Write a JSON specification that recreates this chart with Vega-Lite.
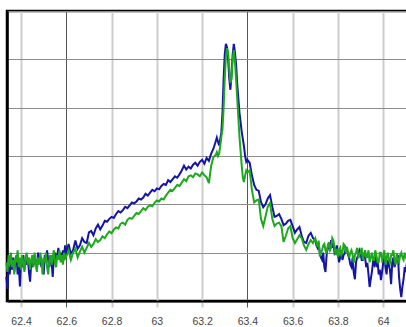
{
"$schema":"https://vega.github.io/schema/vega-lite/v6.json",
"width":402,"height":290,
"autosize":"none",
"padding":{"left":7,"top":11,"right":0,"bottom":26},
"background":"white",
"config":{"view":{"stroke":"#000","strokeWidth":2.5}},
"data":{"values":[
{"x":62.335,"b":0.50,"g":0.80},{"x":62.340,"b":0.25,"g":0.60},{"x":62.345,"b":0.70,"g":0.95},{"x":62.350,"b":0.55,"g":0.75},{"x":62.355,"b":0.85,"g":1.00},{"x":62.360,"b":0.65,"g":0.70},{"x":62.365,"b":0.90,"g":0.85},{"x":62.370,"b":0.60,"g":0.55},{"x":62.375,"b":0.80,"g":0.90},{"x":62.380,"b":0.95,"g":0.80},{"x":62.385,"b":0.55,"g":1.05},{"x":62.390,"b":0.75,"g":0.70},{"x":62.395,"b":0.30,"g":0.90},{"x":62.400,"b":0.80,"g":0.65},{"x":62.405,"b":0.70,"g":0.95},{"x":62.410,"b":0.95,"g":0.80},{"x":62.415,"b":0.65,"g":0.60},{"x":62.420,"b":0.85,"g":0.90},{"x":62.425,"b":0.75,"g":1.00},{"x":62.430,"b":0.90,"g":0.75},{"x":62.435,"b":0.60,"g":0.90},{"x":62.440,"b":0.40,"g":0.65},{"x":62.445,"b":0.80,"g":0.85},{"x":62.450,"b":0.70,"g":0.95},{"x":62.455,"b":0.95,"g":0.70},{"x":62.460,"b":0.75,"g":1.00},{"x":62.465,"b":0.85,"g":0.80},{"x":62.470,"b":0.65,"g":0.60},{"x":62.475,"b":1.00,"g":0.90},{"x":62.480,"b":0.80,"g":0.75},{"x":62.485,"b":0.90,"g":1.00},{"x":62.490,"b":0.70,"g":0.85},{"x":62.495,"b":0.85,"g":0.55},{"x":62.500,"b":0.55,"g":0.90},{"x":62.505,"b":0.95,"g":0.80},{"x":62.510,"b":0.80,"g":1.00},{"x":62.515,"b":1.05,"g":0.70},{"x":62.520,"b":0.85,"g":0.55},{"x":62.525,"b":0.70,"g":0.85},{"x":62.530,"b":0.95,"g":0.95},{"x":62.535,"b":0.80,"g":0.75},{"x":62.540,"b":0.50,"g":0.90},{"x":62.545,"b":0.90,"g":1.05},{"x":62.550,"b":1.00,"g":0.80},{"x":62.555,"b":0.85,"g":0.70},{"x":62.560,"b":0.95,"g":0.95},{"x":62.565,"b":1.10,"g":0.85},{"x":62.570,"b":0.90,"g":1.05},{"x":62.575,"b":1.00,"g":0.80},{"x":62.580,"b":0.85,"g":0.95},{"x":62.585,"b":1.05,"g":0.75},{"x":62.590,"b":0.95,"g":1.00},{"x":62.595,"b":1.15,"g":0.88},
{"x":62.60,"b":0.95,"g":0.92},{"x":62.61,"b":1.18,"g":1.05},{"x":62.62,"b":0.98,"g":0.85},{"x":62.63,"b":1.05,"g":1.00},{"x":62.64,"b":1.25,"g":1.08},{"x":62.65,"b":1.08,"g":0.90},{"x":62.66,"b":1.15,"g":1.02},{"x":62.67,"b":1.30,"g":1.12},{"x":62.68,"b":1.22,"g":1.00},{"x":62.69,"b":1.20,"g":1.10},{"x":62.70,"b":1.42,"g":1.20},{"x":62.71,"b":1.45,"g":1.12},{"x":62.72,"b":1.36,"g":1.18},{"x":62.73,"b":1.50,"g":1.28},{"x":62.74,"b":1.58,"g":1.22},{"x":62.75,"b":1.48,"g":1.26},{"x":62.76,"b":1.56,"g":1.34},{"x":62.77,"b":1.66,"g":1.30},{"x":62.78,"b":1.64,"g":1.38},{"x":62.79,"b":1.70,"g":1.44},{"x":62.80,"b":1.74,"g":1.40},{"x":62.81,"b":1.72,"g":1.48},{"x":62.82,"b":1.80,"g":1.52},{"x":62.83,"b":1.86,"g":1.50},{"x":62.84,"b":1.83,"g":1.60},{"x":62.85,"b":1.88,"g":1.62},{"x":62.86,"b":1.95,"g":1.58},{"x":62.87,"b":1.92,"g":1.68},{"x":62.88,"b":1.98,"g":1.72},{"x":62.89,"b":2.04,"g":1.70},{"x":62.90,"b":2.02,"g":1.76},{"x":62.91,"b":2.06,"g":1.82},{"x":62.92,"b":2.12,"g":1.80},{"x":62.93,"b":2.10,"g":1.86},{"x":62.94,"b":2.14,"g":1.92},{"x":62.95,"b":2.22,"g":1.88},{"x":62.96,"b":2.18,"g":1.95},{"x":62.97,"b":2.24,"g":1.98},{"x":62.98,"b":2.30,"g":1.96},{"x":62.99,"b":2.27,"g":2.03},{"x":63.00,"b":2.33,"g":2.08},{"x":63.01,"b":2.31,"g":2.06},{"x":63.02,"b":2.38,"g":2.12},{"x":63.03,"b":2.42,"g":2.10},{"x":63.04,"b":2.40,"g":2.18},{"x":63.05,"b":2.50,"g":2.24},{"x":63.06,"b":2.46,"g":2.30},{"x":63.07,"b":2.52,"g":2.28},{"x":63.08,"b":2.58,"g":2.34},{"x":63.09,"b":2.55,"g":2.40},{"x":63.10,"b":2.62,"g":2.38},{"x":63.11,"b":2.70,"g":2.45},{"x":63.12,"b":2.80,"g":2.52},{"x":63.13,"b":2.72,"g":2.48},{"x":63.14,"b":2.78,"g":2.58},{"x":63.15,"b":2.74,"g":2.60},{"x":63.16,"b":2.82,"g":2.56},{"x":63.17,"b":2.86,"g":2.64},{"x":63.18,"b":2.80,"g":2.62},{"x":63.19,"b":2.88,"g":2.58},{"x":63.20,"b":2.92,"g":2.66},{"x":63.21,"b":2.84,"g":2.60},{"x":63.22,"b":2.96,"g":2.56},{"x":63.23,"b":2.90,"g":2.44},
{"x":63.24,"b":3.05,"g":2.80},{"x":63.25,"b":3.15,"g":2.98},{"x":63.26,"b":3.30,"g":3.02},{"x":63.265,"b":3.38,"g":3.08},{"x":63.27,"b":3.30,"g":3.00},{"x":63.275,"b":3.22,"g":3.05},{"x":63.28,"b":3.35,"g":3.20},{"x":63.285,"b":3.48,"g":3.40},{"x":63.29,"b":3.90,"g":3.55},{"x":63.295,"b":4.60,"g":4.00},{"x":63.30,"b":5.10,"g":4.60},{"x":63.305,"b":5.32,"g":5.05},{"x":63.31,"b":5.25,"g":5.23},{"x":63.315,"b":5.00,"g":5.15},{"x":63.32,"b":4.60,"g":4.80},{"x":63.325,"b":4.37,"g":4.51},{"x":63.33,"b":4.70,"g":4.60},{"x":63.335,"b":5.10,"g":5.00},{"x":63.34,"b":5.32,"g":5.19},{"x":63.345,"b":5.15,"g":4.95},{"x":63.35,"b":4.90,"g":4.60},{"x":63.355,"b":4.50,"g":4.20},{"x":63.36,"b":4.20,"g":3.80},{"x":63.365,"b":3.90,"g":3.40},{"x":63.37,"b":3.70,"g":3.10},{"x":63.375,"b":3.50,"g":2.80},{"x":63.38,"b":3.35,"g":2.55},{"x":63.385,"b":3.20,"g":2.46},{"x":63.39,"b":3.00,"g":2.60},{"x":63.395,"b":2.88,"g":2.70},{"x":63.40,"b":2.92,"g":2.66},{"x":63.41,"b":2.86,"g":2.70},{"x":63.42,"b":2.60,"g":2.30},{"x":63.43,"b":2.40,"g":2.04},{"x":63.44,"b":2.30,"g":2.08},{"x":63.45,"b":2.28,"g":2.10},{"x":63.46,"b":2.05,"g":1.70},{"x":63.47,"b":1.94,"g":1.55},{"x":63.48,"b":2.00,"g":1.75},{"x":63.49,"b":2.12,"g":1.95},{"x":63.50,"b":2.19,"g":2.03},{"x":63.51,"b":1.95,"g":1.70},{"x":63.52,"b":1.74,"g":1.55},{"x":63.53,"b":1.76,"g":1.60},{"x":63.54,"b":1.80,"g":1.62},{"x":63.55,"b":1.70,"g":1.55},{"x":63.56,"b":1.57,"g":1.22},{"x":63.57,"b":1.60,"g":1.35},{"x":63.58,"b":1.66,"g":1.50},{"x":63.59,"b":1.68,"g":1.55},{"x":63.60,"b":1.55,"g":1.30},{"x":63.61,"b":1.41,"g":1.20},{"x":63.62,"b":1.48,"g":1.28},{"x":63.63,"b":1.53,"g":1.36},{"x":63.64,"b":1.35,"g":1.30},{"x":63.65,"b":1.22,"g":1.15},{"x":63.66,"b":1.20,"g":1.06},{"x":63.67,"b":1.35,"g":1.18},{"x":63.68,"b":1.41,"g":1.26},{"x":63.69,"b":1.30,"g":1.20},
{"x":63.700,"b":1.26,"g":1.30},{"x":63.705,"b":1.15,"g":1.20},{"x":63.710,"b":1.10,"g":1.12},{"x":63.715,"b":1.20,"g":1.25},{"x":63.720,"b":0.99,"g":0.92},{"x":63.725,"b":0.90,"g":1.00},{"x":63.730,"b":0.85,"g":1.05},{"x":63.735,"b":1.00,"g":1.15},{"x":63.740,"b":0.70,"g":1.18},{"x":63.745,"b":0.60,"g":1.05},{"x":63.750,"b":0.95,"g":0.98},{"x":63.755,"b":1.10,"g":1.15},{"x":63.760,"b":1.15,"g":1.22},{"x":63.765,"b":1.05,"g":1.05},{"x":63.770,"b":1.26,"g":1.10},{"x":63.775,"b":1.10,"g":1.30},{"x":63.780,"b":1.20,"g":1.25},{"x":63.785,"b":1.00,"g":1.10},{"x":63.790,"b":1.05,"g":0.95},{"x":63.795,"b":1.15,"g":1.08},{"x":63.800,"b":0.99,"g":0.91},{"x":63.805,"b":0.80,"g":1.05},{"x":63.810,"b":0.90,"g":1.10},{"x":63.815,"b":1.05,"g":0.95},{"x":63.820,"b":0.85,"g":1.00},{"x":63.825,"b":0.95,"g":1.18},{"x":63.830,"b":0.98,"g":1.15},{"x":63.835,"b":1.10,"g":1.00},{"x":63.840,"b":1.06,"g":1.12},{"x":63.845,"b":0.95,"g":1.00},{"x":63.850,"b":0.88,"g":0.90},{"x":63.855,"b":0.75,"g":1.00},{"x":63.860,"b":0.70,"g":1.05},{"x":63.865,"b":0.90,"g":0.95},{"x":63.870,"b":0.58,"g":0.79},{"x":63.875,"b":0.45,"g":0.95},{"x":63.880,"b":0.80,"g":1.00},{"x":63.885,"b":0.90,"g":1.10},{"x":63.890,"b":0.95,"g":0.88},{"x":63.895,"b":1.05,"g":0.95},{"x":63.900,"b":0.99,"g":1.02},{"x":63.905,"b":0.85,"g":1.10},{"x":63.910,"b":0.85,"g":0.85},{"x":63.915,"b":0.95,"g":0.95},{"x":63.920,"b":0.90,"g":1.05},{"x":63.925,"b":0.70,"g":0.90},{"x":63.930,"b":0.79,"g":0.91},{"x":63.935,"b":0.55,"g":1.05},{"x":63.940,"b":0.29,"g":0.80},{"x":63.945,"b":0.45,"g":0.90},{"x":63.950,"b":0.60,"g":1.00},{"x":63.955,"b":0.80,"g":0.85},{"x":63.960,"b":0.75,"g":0.85},{"x":63.965,"b":0.95,"g":1.05},{"x":63.970,"b":0.70,"g":0.95},{"x":63.975,"b":0.85,"g":0.80},{"x":63.980,"b":0.55,"g":0.80},{"x":63.985,"b":0.65,"g":1.00},{"x":63.990,"b":0.43,"g":1.00},{"x":63.995,"b":0.60,"g":0.85},{"x":64.000,"b":0.79,"g":0.91},{"x":64.005,"b":0.90,"g":1.05},{"x":64.010,"b":0.70,"g":0.75},{"x":64.015,"b":0.55,"g":0.90},{"x":64.020,"b":0.85,"g":1.00},{"x":64.025,"b":0.75,"g":0.85},{"x":64.030,"b":0.64,"g":0.79},{"x":64.035,"b":0.35,"g":0.95},{"x":64.040,"b":0.80,"g":0.95},{"x":64.045,"b":0.90,"g":1.05},{"x":64.050,"b":0.70,"g":0.85},{"x":64.055,"b":0.80,"g":0.75},{"x":64.060,"b":0.85,"g":0.99},{"x":64.065,"b":0.95,"g":0.85},{"x":64.070,"b":0.50,"g":0.80},{"x":64.075,"b":0.25,"g":0.95},{"x":64.080,"b":0.08,"g":1.00},{"x":64.085,"b":0.30,"g":0.90},{"x":64.090,"b":0.45,"g":0.85},{"x":64.095,"b":0.70,"g":1.00},{"x":64.100,"b":0.64,"g":0.91},{"x":64.105,"b":0.80,"g":0.85},{"x":64.110,"b":0.75,"g":0.95}
]},
"transform":[{"fold":["b","g"],"as":["s","y"]}],
"encoding":{
  "x":{"field":"x","type":"quantitative","scale":{"domain":[62.338,64.114],"nice":false,"zero":false},
    "axis":{"title":null,"values":[62.4,62.6,62.8,63,63.2,63.4,63.6,63.8,64],"format":"~g",
      "domainColor":"#000","domainWidth":2,
      "grid":true,"gridColor":{"condition":{"test":"datum.value == 62.6 || datum.value == 63.4","value":"#555555"},"value":"#cdcdcd"},
      "gridWidth":{"condition":{"test":"datum.value == 62.6 || datum.value == 63.4","value":1},"value":2},
      "tickColor":{"condition":{"test":"datum.value == 62.6 || datum.value == 63.4","value":"#555555"},"value":"#cdcdcd"},
      "tickWidth":{"condition":{"test":"datum.value == 62.6 || datum.value == 63.4","value":1},"value":2},
      "tickSize":6,"labelPadding":9,"labelFontSize":10.5,"labelFont":"Liberation Sans Narrow, Liberation Sans","labelColor":"#444444"}},
  "y":{"field":"y","type":"quantitative","scale":{"domain":[0,6],"nice":false,"zero":false},
    "axis":{"title":null,"values":[0,1,2,3,4,5,6],"labels":false,"ticks":false,"domainColor":"#000","domainWidth":2.5,
      "grid":true,"gridColor":"#8c8c8c","gridWidth":1}}
},
"layer":[
  {"transform":[{"filter":"datum.s == 'b'"}],"mark":{"type":"line","color":"#1414a6","strokeWidth":2}},
  {"transform":[{"filter":"datum.s == 'g'"}],"mark":{"type":"line","color":"#1ea81e","strokeWidth":2}}
]
}
